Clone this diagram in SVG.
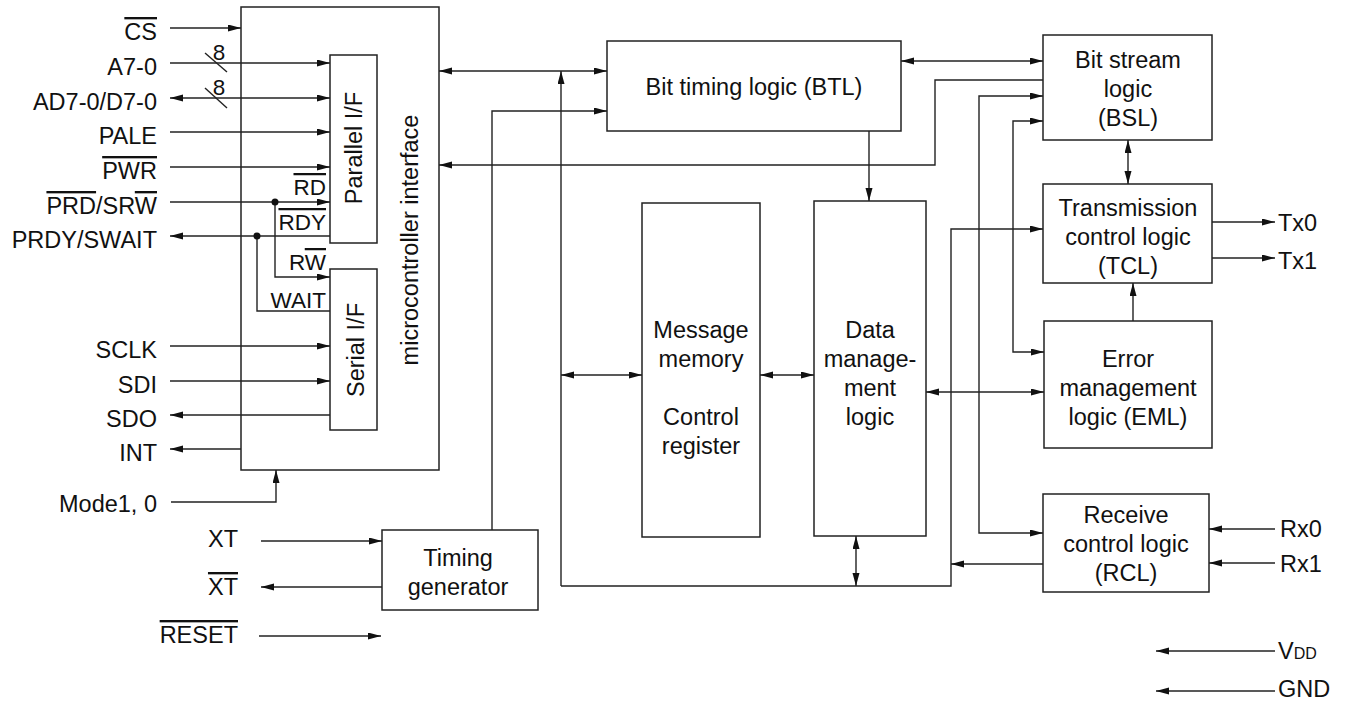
<svg xmlns="http://www.w3.org/2000/svg" width="1347" height="701" viewBox="0 0 1347 701">
<style>
text { font-family: "Liberation Sans", Arial, Helvetica, sans-serif; font-size: 23.5px; fill: #111; }
.box { fill: #fff; stroke: #222; stroke-width: 1.5; }
.ln { fill: none; stroke: #222; stroke-width: 1.4; }
.a { marker-end: url(#ah); }
.aa { marker-start: url(#ah); marker-end: url(#ah); }
.r { text-anchor: end; }
.m { text-anchor: middle; }
.ov { text-decoration: overline; }
.s { font-size: 22.5px; }
</style>
<defs>
<marker id="ah" markerUnits="userSpaceOnUse" markerWidth="14" markerHeight="8" refX="13" refY="3.5" orient="auto-start-reverse" viewBox="0 0 14 8"><path d="M0,0 L13,3.5 L0,7 z" fill="#111"/></marker>
</defs>
<rect width="1347" height="701" fill="#fff"/>

<g id="micro">
<rect class="box" x="241" y="7" width="198" height="463"/>
<text class="m" transform="translate(418,240) rotate(-90)">microcontroller interface</text>
</g>
<g id="parallel">
<rect class="box" x="330" y="55" width="47" height="188"/>
<text class="m" transform="translate(362,148) rotate(-90)">Parallel I/F</text>
</g>
<g id="serial">
<rect class="box" x="330" y="269" width="47" height="161"/>
<text class="m" transform="translate(364,350) rotate(-90)">Serial I/F</text>
</g>
<g id="btl">
<rect class="box" x="607" y="41" width="294" height="90"/>
<text class="m" x="754" y="95">Bit timing logic (BTL)</text>
</g>
<g id="bsl">
<rect class="box" x="1043" y="35" width="169" height="105"/>
<text class="m" x="1128" y="68">Bit stream</text>
<text class="m" x="1128" y="97">logic</text>
<text class="m" x="1128" y="126">(BSL)</text>
</g>
<g id="tcl">
<rect class="box" x="1043" y="184" width="169" height="99"/>
<text class="m" x="1128" y="216">Transmission</text>
<text class="m" x="1128" y="245">control logic</text>
<text class="m" x="1128" y="274">(TCL)</text>
</g>
<g id="eml">
<rect class="box" x="1044" y="321" width="168" height="127"/>
<text class="m" x="1128" y="367">Error</text>
<text class="m" x="1128" y="396">management</text>
<text class="m" x="1128" y="425">logic (EML)</text>
</g>
<g id="rcl">
<rect class="box" x="1043" y="494" width="166" height="98"/>
<text class="m" x="1126" y="523">Receive</text>
<text class="m" x="1126" y="552">control logic</text>
<text class="m" x="1126" y="581">(RCL)</text>
</g>
<g id="mm">
<rect class="box" x="642" y="203" width="118" height="334"/>
<text class="m" x="701" y="338">Message</text>
<text class="m" x="701" y="367">memory</text>
<text class="m" x="701" y="425">Control</text>
<text class="m" x="701" y="454">register</text>
</g>
<g id="dm">
<rect class="box" x="814" y="201" width="112" height="335"/>
<text class="m" x="870" y="338">Data</text>
<text class="m" x="870" y="367">manage-</text>
<text class="m" x="870" y="396">ment</text>
<text class="m" x="870" y="425">logic</text>
</g>
<g id="timing">
<rect class="box" x="382" y="530" width="156" height="80"/>
<text class="m" x="458" y="566">Timing</text>
<text class="m" x="458" y="595">generator</text>
</g>

<g id="pins">
<text class="r" x="157" y="40"><tspan class="ov">CS</tspan></text>
<text class="r" x="157" y="75">A7-0</text>
<text class="r" x="157" y="110">AD7-0/D7-0</text>
<text class="r" x="157" y="144">PALE</text>
<text class="r" x="157" y="179"><tspan class="ov">PWR</tspan></text>
<text class="r" x="157" y="214"><tspan class="ov">PRD</tspan>/SR<tspan class="ov">W</tspan></text>
<text class="r" x="157" y="248">PRDY/SWAIT</text>
<text class="r" x="157" y="358">SCLK</text>
<text class="r" x="157" y="393">SDI</text>
<text class="r" x="157" y="427">SDO</text>
<text class="r" x="157" y="461">INT</text>
<text class="r" x="157" y="512">Mode1, 0</text>
<text class="r" x="238" y="547">XT</text>
<text class="r" x="238" y="595"><tspan class="ov">XT</tspan></text>
<text class="r" x="238" y="643"><tspan class="ov">RESET</tspan></text>
<text class="r s" x="326" y="195"><tspan class="ov">RD</tspan></text>
<text class="r s" x="326" y="230"><tspan class="ov">RDY</tspan></text>
<text class="r s" x="326" y="270">R<tspan class="ov">W</tspan></text>
<text class="r s" x="326" y="308">WAIT</text>
<text class="m s" x="219" y="60">8</text>
<text class="m s" x="219" y="95">8</text>
<text x="1278" y="231">Tx0</text>
<text x="1278" y="269">Tx1</text>
<text x="1280" y="537">Rx0</text>
<text x="1280" y="572">Rx1</text>
<text x="1278" y="659">V<tspan font-size="16">DD</tspan></text>
<text x="1278" y="697">GND</text>
</g>

<g id="connectors">
<path class="ln a" d="M170,28 H241"/>
<path class="ln a" d="M170,63 H330"/>
<path class="ln" d="M205,53 L227,72"/>
<path class="ln aa" d="M170,98 H330"/>
<path class="ln" d="M205,88 L227,108"/>
<path class="ln a" d="M170,132 H330"/>
<path class="ln a" d="M170,167 H330"/>
<path class="ln a" d="M170,202 H330"/>
<path class="ln a" d="M275,202 V277 H330"/>
<path class="ln a" d="M330,236 H170"/>
<path class="ln" d="M257,236 V311 H330"/>
<circle cx="275" cy="202" r="3.5" fill="#111"/>
<circle cx="257" cy="236" r="3.5" fill="#111"/>
<path class="ln a" d="M170,346 H330"/>
<path class="ln a" d="M170,381 H330"/>
<path class="ln a" d="M330,415 H170"/>
<path class="ln a" d="M241,449 H170"/>
<path class="ln a" d="M171,502 H276 V470"/>
<path class="ln a" d="M261,541 H382"/>
<path class="ln a" d="M382,587 H261"/>
<path class="ln a" d="M259,636 H381"/>

<path class="ln aa" d="M439,71 H607"/>
<path class="ln a" d="M561,586 V71"/>
<path class="ln a" d="M492,530 V111 H607"/>
<path class="ln a" d="M1043,80 H935 V165 H439"/>
<path class="ln a" d="M869,131 V201"/>
<path class="ln aa" d="M561,375 H642"/>
<path class="ln aa" d="M760,375 H814"/>
<path class="ln aa" d="M856,536 V586"/>
<path class="ln a" d="M561,586 H951 V229 H1043"/>
<path class="ln a" d="M1043,564 H951"/>
<path class="ln aa" d="M1043,96 H979 V533 H1043"/>
<path class="ln aa" d="M1043,121 H1013 V352 H1044"/>
<path class="ln aa" d="M901,61 H1043"/>
<path class="ln aa" d="M926,392 H1044"/>
<path class="ln aa" d="M1128,140 V184"/>
<path class="ln a" d="M1133,321 V283"/>
<path class="ln a" d="M1212,222 H1275"/>
<path class="ln a" d="M1212,258 H1275"/>
<path class="ln a" d="M1275,529 H1209"/>
<path class="ln a" d="M1275,563 H1209"/>
<path class="ln a" d="M1275,651 H1156"/>
<path class="ln a" d="M1275,691 H1156"/>
</g>
</svg>
